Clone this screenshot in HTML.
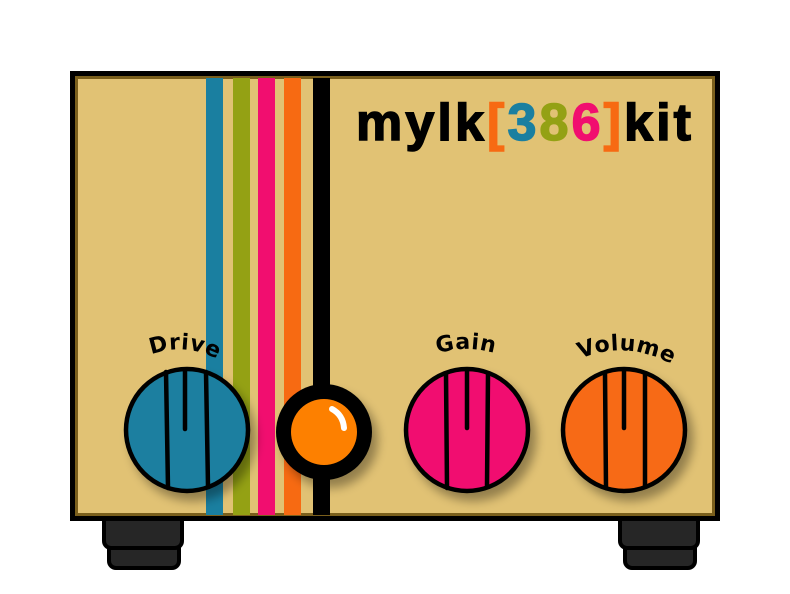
<!DOCTYPE html>
<html><head><meta charset="utf-8"><style>
html,body{margin:0;padding:0;background:#fff;}
svg{display:block;}
</style></head><body>
<svg width="790" height="594" viewBox="0 0 790 594" xmlns="http://www.w3.org/2000/svg">
<defs>
<filter id="sh" x="-30%" y="-30%" width="160%" height="160%">
<feGaussianBlur in="SourceAlpha" stdDeviation="5"/>
<feOffset dx="6" dy="8"/>
<feComponentTransfer><feFuncA type="linear" slope="0.35"/></feComponentTransfer>
<feMerge><feMergeNode/><feMergeNode in="SourceGraphic"/></feMerge>
</filter>
<path id="arcD" d="M136,362 Q184,334 232,368"/>
<path id="arcG" d="M420,360 Q467,338 512,360"/>
<path id="arcV" d="M570,364 Q624,334 682,370"/>
</defs>
<g stroke="#000" stroke-width="4" fill="#262626">
<rect x="109" y="540" width="70" height="28" rx="7"/>
<rect x="104" y="510" width="78" height="38" rx="7"/>
<rect x="625" y="540" width="70" height="28" rx="7"/>
<rect x="620" y="510" width="78" height="38" rx="7"/>
</g>
<rect x="70" y="71" width="650" height="450" fill="#000"/>
<rect x="75" y="76" width="640" height="440" fill="#7a5f1c"/>
<rect x="78" y="79" width="634" height="434" fill="#e1c274"/>
<rect x="206" y="78" width="17" height="437" fill="#1a7fa0"/>
<rect x="233" y="78" width="17" height="437" fill="#94a114"/>
<rect x="258" y="78" width="17" height="437" fill="#f10e6f"/>
<rect x="284" y="78" width="17" height="437" fill="#f76a12"/>
<rect x="313" y="78" width="17" height="437" fill="#000"/>
<text x="356" y="140" textLength="335" lengthAdjust="spacing" font-family="Liberation Sans, sans-serif" font-weight="bold" font-size="52" stroke-width="1.5"><tspan fill="#000" stroke="#000">mylk</tspan><tspan fill="#f76a12" stroke="#f76a12">[</tspan><tspan fill="#1a7fa0" stroke="#1a7fa0">3</tspan><tspan fill="#94a114" stroke="#94a114">8</tspan><tspan fill="#f10e6f" stroke="#f10e6f">6</tspan><tspan fill="#f76a12" stroke="#f76a12">]</tspan><tspan fill="#000" stroke="#000">kit</tspan></text>
<g font-family="DejaVu Sans, sans-serif" font-weight="bold" font-size="22" letter-spacing="0.5" fill="#000">
<text><textPath href="#arcD" startOffset="50%" text-anchor="middle">Drive</textPath></text>
<text><textPath href="#arcG" startOffset="50%" text-anchor="middle">Gain</textPath></text>
<text><textPath href="#arcV" startOffset="50%" text-anchor="middle">Volume</textPath></text>
</g>
<g stroke="#000" stroke-width="4.5" stroke-linecap="round">
<g filter="url(#sh)"><circle cx="187" cy="430" r="61" fill="#1a7fa0"/></g>
<line x1="166" y1="372" x2="168" y2="488"/><line x1="206" y1="372" x2="208" y2="486"/><line x1="185" y1="370" x2="185" y2="429"/>
<g filter="url(#sh)"><circle cx="467" cy="430" r="61" fill="#f10e6f"/></g>
<line x1="446" y1="374" x2="447" y2="488"/><line x1="488" y1="374" x2="487" y2="486"/><line x1="467" y1="370" x2="467" y2="428"/>
<g filter="url(#sh)"><circle cx="624" cy="430" r="61" fill="#f76a12"/></g>
<line x1="605" y1="374" x2="606" y2="488"/><line x1="645" y1="374" x2="645" y2="486"/><line x1="624" y1="370" x2="624" y2="428"/>
</g>
<g filter="url(#sh)"><circle cx="324" cy="432" r="48" fill="#000"/></g>
<circle cx="324" cy="432" r="33" fill="#fd8000"/>
<path d="M332,409 Q343,415 344,428" stroke="#fff" stroke-width="6" fill="none" stroke-linecap="round"/>
</svg>
</body></html>
